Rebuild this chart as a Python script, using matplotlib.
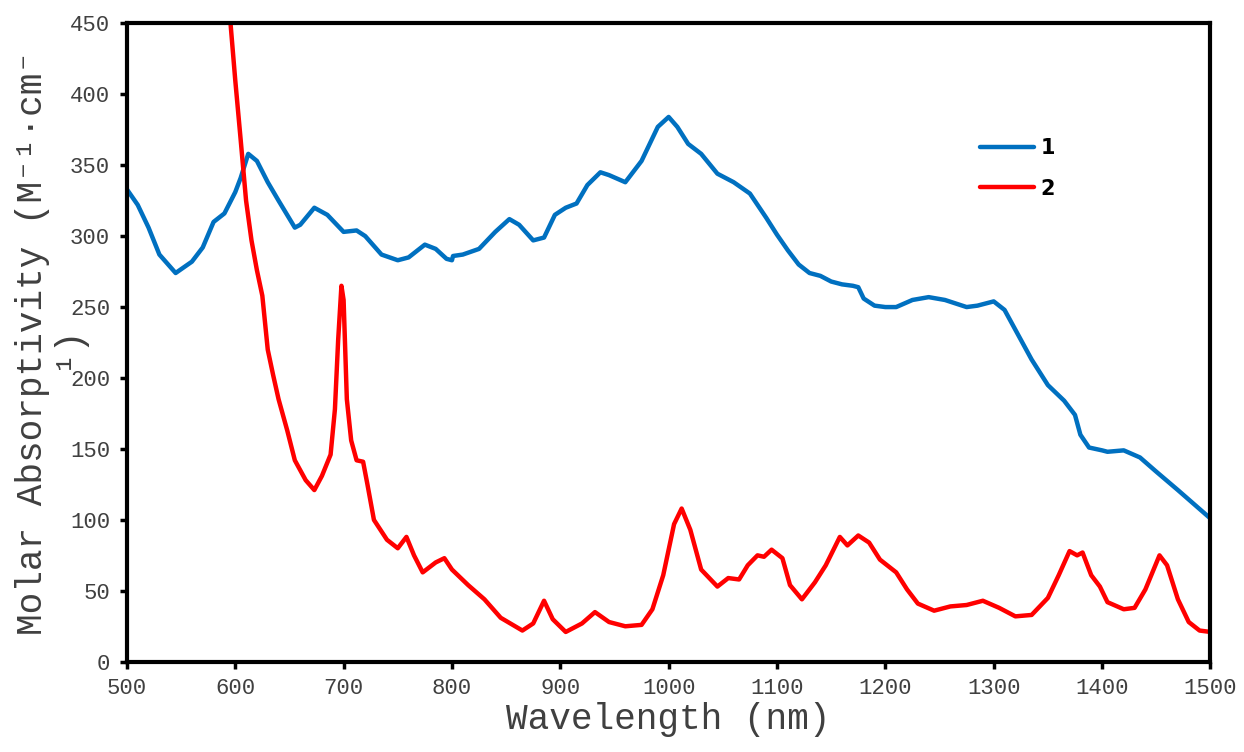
import matplotlib.pyplot as plt
import numpy as np

## Series 1 (blue)
wl1 = [500, 510, 520, 530, 545, 560, 570, 580, 590, 600, 605, 612, 620, 630, 640,
       655, 660, 673, 685, 700, 712, 720, 735, 750, 760, 775, 785, 795, 800, 801,
       810, 825, 840, 853, 862, 875, 885, 895, 905, 915, 925, 937, 945, 960, 975,
       990, 1000, 1008, 1018, 1030, 1045, 1060, 1075, 1090, 1100, 1110, 1120, 1130,
       1140, 1150, 1160, 1170, 1175, 1180, 1190, 1200, 1210, 1225, 1240, 1255, 1275,
       1285, 1300, 1310, 1320, 1335, 1350, 1365, 1375, 1380, 1388, 1400, 1405, 1420,
       1435, 1450, 1470, 1500]
a1 = [333, 322, 306, 287, 274, 282, 292, 310, 316, 331, 341, 358, 353, 338, 325,
      306, 308, 320, 315, 303, 304, 300, 287, 283, 285, 294, 291, 284, 283, 286,
      287, 291, 303, 312, 308, 297, 299, 315, 320, 323, 336, 345, 343, 338, 353,
      377, 384, 377, 365, 358, 344, 338, 330, 313, 301, 290, 280, 274, 272, 268,
      266, 265, 264, 256, 251, 250, 250, 255, 257, 255, 250, 251, 254, 248, 234,
      213, 195, 184, 174, 160, 151, 149, 148, 149, 144, 134, 121, 101]

## Series 2 (red)
wl2 = [594, 600, 605, 610, 615, 620, 625, 630, 635, 640, 648, 655, 665, 673, 680,
       688, 692, 695, 698, 700, 703, 707, 712, 718, 722, 728, 740, 750, 758, 765,
       773, 785, 793, 800, 815, 830, 845, 865, 875, 885, 893, 905, 920, 932, 945,
       960, 975, 985, 995, 1005, 1012, 1020, 1030, 1045, 1055, 1065, 1073, 1082,
       1088, 1095, 1105, 1112, 1123, 1135, 1145, 1158, 1165, 1175, 1185, 1195, 1210,
       1220, 1230, 1245, 1260, 1275, 1290, 1305, 1320, 1335, 1350, 1360, 1370, 1377,
       1382, 1390, 1398, 1405, 1420, 1430, 1440, 1453, 1460, 1470, 1480, 1490, 1500]
a2 = [465, 410, 368, 325, 297, 276, 258, 220, 202, 185, 163, 142, 128, 121, 131,
      146, 178, 227, 265, 255, 185, 156, 142, 141, 125, 100, 86, 80, 88, 75,
      63, 70, 73, 65, 54, 44, 31, 22, 27, 43, 30, 21, 27, 35, 28,
      25, 26, 37, 61, 97, 108, 93, 65, 53, 59, 58, 68, 75,
      74, 79, 73, 54, 44, 56, 68, 88, 82, 89, 84, 72, 63,
      51, 41, 36, 39, 40, 43, 38, 32, 33, 45, 61, 78, 75,
      77, 61, 53, 42, 37, 38, 51, 75, 68, 44, 28, 22, 21]

mono = ['Liberation Mono', 'DejaVu Sans Mono']

fig = plt.figure(figsize=(12.44, 7.52), dpi=100)
ax = fig.add_axes([0.102, 0.12, 0.871, 0.849])

ax.plot(wl1, a1, color='#0070C0', lw=3.2, label='1', solid_capstyle='round', solid_joinstyle='round')
ax.plot(wl2, a2, color='#FF0000', lw=3.2, label='2', solid_capstyle='round', solid_joinstyle='round')

ax.set_xlim(500, 1500)
ax.set_ylim(0, 450)
ax.set_xticks(np.arange(500, 1501, 100))
ax.set_yticks(np.arange(0, 451, 50))
ax.tick_params(direction='out', length=5, width=2.5, labelsize=16,
               labelcolor='#404040', pad=7)
for lab in ax.get_xticklabels() + ax.get_yticklabels():
    lab.set_family(mono)
for s in ax.spines.values():
    s.set_linewidth(3)

ax.set_xlabel('Wavelength (nm)', family=mono, fontsize=26, color='#404040', labelpad=2)
# label wraps onto a second short line, as in the original
ax.set_ylabel('Molar Absorptivity (M⁻¹·cm⁻', family=mono,
              fontsize=26, color='#404040', va='center', ha='center')
ax.yaxis.set_label_coords(-0.087, 0.5)
ax.text(-0.055, 0.492, '¹)', family=mono, fontsize=26, color='#404040',
        rotation=90, va='center', ha='center', transform=ax.transAxes)

leg = ax.legend(loc='upper left', bbox_to_anchor=(0.77, 0.85), frameon=False,
                prop={'weight': 'bold', 'size': 15}, handlelength=2.6,
                labelspacing=1.0, handletextpad=0.3)

fig.savefig('out.png', dpi=100)
